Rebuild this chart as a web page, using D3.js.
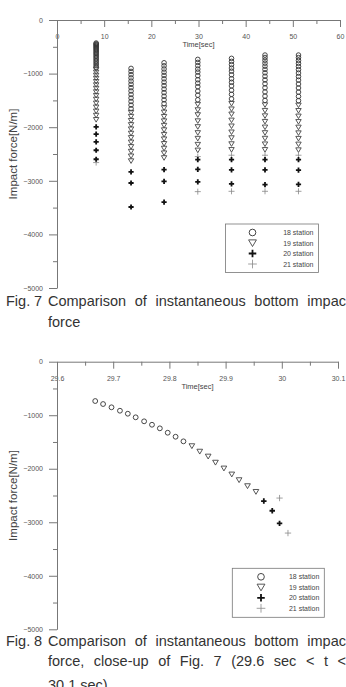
<!DOCTYPE html>
<html>
<head>
<meta charset="utf-8">
<script src="https://cdn.jsdelivr.net/npm/d3@7"></script>
<style>
  body { margin: 0; background: #fff; }
  svg { display: block; }
  .tick text { font-family: "Liberation Sans", Arial, sans-serif; font-size: 7px; fill: #555; }
  .domain, .tick line { stroke: #777; }
  .caption { font-family: "Liberation Sans", Arial, sans-serif; font-size: 14.5px; fill: #333; }
</style>
</head>
<body>
<svg id="chart" width="346" height="687"></svg>
<script>
// Fig. 7 – one column of points per impact event
const eventTimes = [8.3, 15.7, 22.7, 29.85, 37.0, 44.1, 51.2];

const fig7Station18 = [
  [-430, -445, -460, -478, -496, -515, -535, -556, -578, -601, -625, -650, -676, -703, -731, -760, -790, -821, -853, -886],
  [-903, -960, -1020, -1080, -1140, -1200, -1262, -1325, -1390, -1455, -1520, -1587, -1655],
  [-798, -855, -914, -974, -1035, -1097, -1160, -1224, -1289, -1355, -1422, -1490, -1560],
  [-735, -791, -852, -916, -972, -1039, -1114, -1178, -1245, -1327, -1402, -1488],
  [-716, -772, -833, -897, -955, -1022, -1096, -1162, -1230, -1310, -1387, -1472],
  [-654, -700, -750, -805, -862, -922, -985, -1050, -1118, -1190, -1265, -1342, -1420, -1500],
  [-654, -702, -754, -808, -866, -926, -990, -1055, -1122, -1194, -1268, -1345, -1425, -1505]
];
const fig7Station19 = [
  [-920, -975, -1032, -1090, -1150, -1212, -1276, -1342, -1410, -1480, -1552, -1626, -1702, -1780, -1860],
  [-1725, -1800, -1877, -1955, -2035, -2115, -2197, -2280, -2365, -2452, -2540, -2630],
  [-1640, -1720, -1802, -1885, -1968, -2052, -2137, -2222, -2308, -2395, -2483, -2572],
  [-1576, -1678, -1770, -1884, -1993, -2105, -2211, -2323, -2430],
  [-1560, -1662, -1757, -1870, -1980, -2092, -2200, -2312, -2420],
  [-1585, -1690, -1790, -1895, -2000, -2105, -2210, -2315, -2420],
  [-1590, -1692, -1795, -1898, -2002, -2108, -2212, -2318, -2425]
];
const fig7Station20 = [
  [-1994, -2131, -2274, -2430, -2598],
  [-2835, -3041, -3489],
  [-2791, -3009, -3396],
  [-2604, -2785, -3021],
  [-2604, -2795, -3059],
  [-2604, -2795, -3072],
  [-2604, -2800, -3065]
];
const fig7Station21 = [
  [-2660],
  [],
  [],
  [-2548, -3202],
  [-2523, -3196],
  [-2523, -3196],
  [-2523, -3196]
];

// Fig. 8 – close-up of the fourth event, [time, force]
const fig8Station18 = [
  [29.668, -735], [29.682, -791], [29.697, -852], [29.712, -916], [29.726, -972], [29.740, -1039],
  [29.755, -1114], [29.769, -1178], [29.783, -1245], [29.797, -1327], [29.811, -1402], [29.825, -1488]
];
const fig8Station19 = [
  [29.840, -1576], [29.854, -1678], [29.869, -1770], [29.882, -1884], [29.897, -1993],
  [29.911, -2105], [29.924, -2211], [29.939, -2323], [29.954, -2430]
];
const fig8Station20 = [[29.968, -2604], [29.983, -2785], [29.996, -3021]];
const fig8Station21 = [[29.996, -2548], [30.011, -3202]];

const legendLabels = ["18 station", "19 station", "20 station", "21 station"];
const markerTypes = ["circle", "triangle", "heavyPlus", "lightPlus"];

const svg = d3.select("#chart");

// draw one marker of a given kind at (x, y)
function marker(g, kind, x, y, s) {
  if (kind === "circle") {
    g.append("circle").attr("cx", x).attr("cy", y).attr("r", 2.3 * s)
      .attr("fill", "none").attr("stroke", "#333").attr("stroke-width", 0.9);
  } else if (kind === "triangle") {
    const w = 2.7 * s;
    g.append("path")
      .attr("d", `M${x - w},${y - w * 0.8}L${x + w},${y - w * 0.8}L${x},${y + w * 0.9}Z`)
      .attr("fill", "none").attr("stroke", "#444").attr("stroke-width", 0.9);
  } else if (kind === "heavyPlus") {
    const w = 2.6 * s;
    g.append("path").attr("d", `M${x - w},${y}H${x + w}M${x},${y - w}V${y + w}`)
      .attr("stroke", "#111").attr("stroke-width", 1.8);
  } else {
    const w = 3 * s;
    g.append("path").attr("d", `M${x - w},${y}H${x + w}M${x},${y - w}V${y + w}`)
      .attr("stroke", "#888").attr("stroke-width", 0.8);
  }
}

function drawFrame(cfg) {
  const x = d3.scaleLinear().domain(cfg.xDomain).range([cfg.left, cfg.right]);
  const y = d3.scaleLinear().domain([0, -5000]).range([cfg.top, cfg.bottom]);
  const g = svg.append("g");

  // x axis along the top, ticks pointing down into the plot
  g.append("g")
    .attr("transform", `translate(0,${cfg.top})`)
    .call(d3.axisBottom(x).tickValues(cfg.xMinor).tickSize(4).tickFormat(""))
    .call(a => a.select(".domain").remove());
  g.append("g")
    .attr("transform", `translate(0,${cfg.top})`)
    .call(d3.axisBottom(x).tickValues(cfg.xTicks).tickSizeInner(7).tickSizeOuter(0)
      .tickPadding(7).tickFormat(cfg.xFormat));

  // y axis on the left
  g.append("g")
    .attr("transform", `translate(${cfg.left},0)`)
    .call(d3.axisLeft(y).tickValues(d3.range(-500, -5000, -1000)).tickSize(4).tickFormat(""))
    .call(a => a.select(".domain").remove());
  g.append("g")
    .attr("transform", `translate(${cfg.left},0)`)
    .call(d3.axisLeft(y).tickValues(d3.range(0, -5001, -1000)).tickSizeInner(8).tickSizeOuter(0)
      .tickPadding(6).tickFormat(d3.format("d")));

  g.append("text")
    .attr("x", x(cfg.xTitleAt)).attr("y", cfg.top + 27)
    .attr("text-anchor", "middle")
    .style("font-family", "Liberation Sans, Arial, sans-serif")
    .style("font-size", "7.5px").style("fill", "#444")
    .text("Time[sec]");

  g.append("text")
    .attr("transform", `translate(17,${(cfg.top + cfg.bottom) / 2}) rotate(-90)`)
    .attr("text-anchor", "middle")
    .style("font-family", "Liberation Sans, Arial, sans-serif")
    .style("font-size", "11.5px").style("fill", "#444")
    .text("Impact force[N/m]");

  // legend box
  const lg = g.append("g");
  lg.append("rect")
    .attr("x", cfg.legend.x).attr("y", cfg.legend.y)
    .attr("width", cfg.legend.w).attr("height", cfg.legend.h)
    .attr("fill", "#fff").attr("stroke", "#777").attr("stroke-width", 0.8);
  legendLabels.forEach((label, i) => {
    const ry = cfg.legend.y + 8.5 + i * 10.5;
    marker(lg, markerTypes[i], cfg.legend.symX, ry, 1.45);
    lg.append("text")
      .attr("x", cfg.legend.x + cfg.legend.w - 5).attr("y", ry + 2.5)
      .attr("text-anchor", "end")
      .style("font-family", "Liberation Sans, Arial, sans-serif")
      .style("font-size", "7px").style("fill", "#444")
      .text(label);
  });

  return { x, y, g };
}

// ---------- Fig. 7 ----------
const f7 = drawFrame({
  xDomain: [0, 60], left: 57, right: 340, top: 20, bottom: 288,
  xTicks: d3.range(0, 61, 10), xMinor: d3.range(5, 60, 10), xFormat: d3.format("d"),
  xTitleAt: 30,
  legend: { x: 225.5, y: 224, w: 93, h: 48.5, symX: 252.5 }
});
const p7 = f7.g.append("g");
eventTimes.forEach((t, i) => {
  fig7Station18[i].forEach(v => marker(p7, "circle", f7.x(t), f7.y(v), 1));
  fig7Station19[i].forEach(v => marker(p7, "triangle", f7.x(t), f7.y(v), 1));
  fig7Station21[i].forEach(v => marker(p7, "lightPlus", f7.x(t), f7.y(v), 1));
  fig7Station20[i].forEach(v => marker(p7, "heavyPlus", f7.x(t), f7.y(v), 1));
});

// ---------- Fig. 8 ----------
const f8 = drawFrame({
  xDomain: [29.6, 30.1], left: 57, right: 338, top: 361.7, bottom: 629.3,
  xTicks: d3.range(0, 6).map(i => 29.6 + i * 0.1), xMinor: d3.range(0, 5).map(i => 29.65 + i * 0.1),
  xFormat: d => d3.format(".1f")(d).replace(/\.0$/, ""),
  xTitleAt: 29.85,
  legend: { x: 232.3, y: 568.3, w: 92, h: 49, symX: 261 }
});
const p8 = f8.g.append("g");
fig8Station18.forEach(d => marker(p8, "circle", f8.x(d[0]), f8.y(d[1]), 1.05));
fig8Station19.forEach(d => marker(p8, "triangle", f8.x(d[0]), f8.y(d[1]), 1.05));
fig8Station21.forEach(d => marker(p8, "lightPlus", f8.x(d[0]), f8.y(d[1]), 1.05));
fig8Station20.forEach(d => marker(p8, "heavyPlus", f8.x(d[0]), f8.y(d[1]), 1.05));

// ---------- captions (justified between x0 and x1) ----------
function justify(words, x0, x1, y) {
  const nodes = words.map(w => svg.append("text").attr("class", "caption").attr("y", y).text(w));
  const widths = nodes.map(n => n.node().getComputedTextLength());
  const gap = words.length > 1 ? (x1 - x0 - d3.sum(widths)) / (words.length - 1) : 0;
  let cx = x0;
  nodes.forEach((n, i) => { n.attr("x", cx); cx += widths[i] + gap; });
}
function label(text, x, y) {
  svg.append("text").attr("class", "caption").attr("x", x).attr("y", y).text(text);
}

label("Fig.", 6, 306); label("7", 34, 306);
justify(["Comparison", "of", "instantaneous", "bottom", "impac"], 48, 346, 306);
label("force", 48, 327);

label("Fig.", 6, 646); label("8", 34, 646);
justify(["Comparison", "of", "instantaneous", "bottom", "impac"], 48, 346, 646);
justify(["force,", "close-up", "of", "Fig.", "7", "(29.6", "sec", "<", "t", "<"], 48, 346, 666);
label("30.1 sec)", 48, 690);
</script>
</body>
</html>
